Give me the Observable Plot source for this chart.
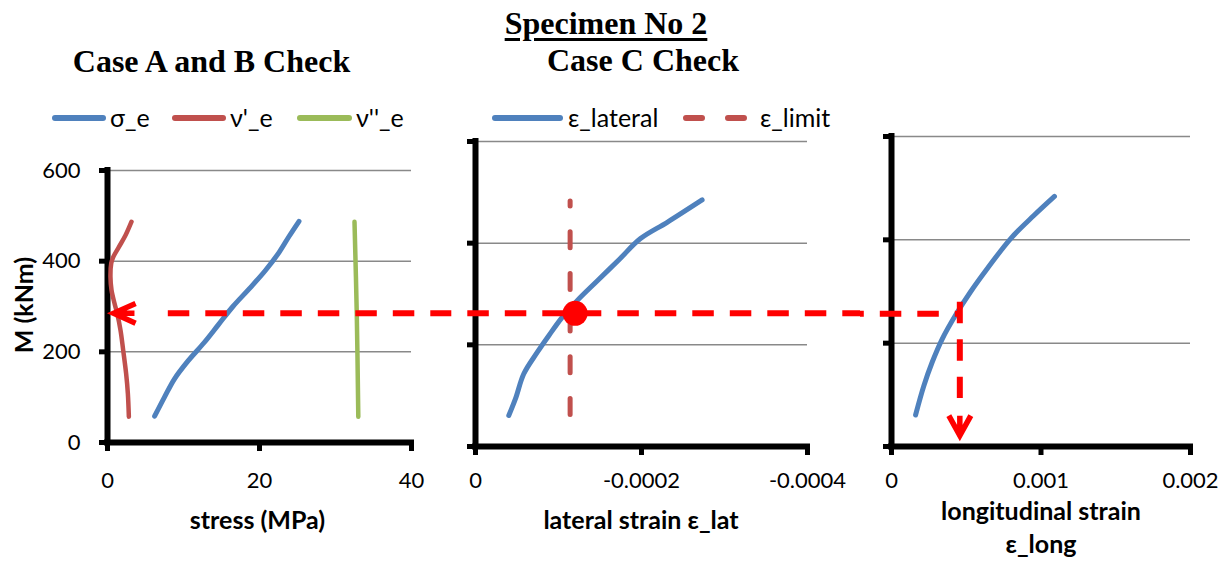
<!DOCTYPE html>
<html>
<head>
<meta charset="utf-8">
<script src="https://cdn.jsdelivr.net/npm/d3@7"></script>
<script src="https://cdn.jsdelivr.net/npm/@observablehq/plot@0.6"></script>
<style>
  html, body { margin: 0; padding: 0; background: #ffffff; }
  #chart { position: relative; width: 1230px; height: 561px; overflow: hidden; background: #fff; color: #000; font-family: Lato, "Open Sans", sans-serif; }
  .panel { position: absolute; top: 0; }
  .panel svg { display: block; }
  .lbl { position: absolute; white-space: nowrap; line-height: 1; }
  .ttl { font-family: "Liberation Serif", "Times New Roman", serif; font-weight: bold; font-size: 32px; }
  .leg { font-size: 25px; }
  .axt { font-weight: bold; font-size: 25px; }
  .sw { position: absolute; overflow: visible; }
</style>
</head>
<body>
<div id="chart"></div>
<script>
// ---------------- data ----------------
const mTicks      = [0, 200, 400, 600];
const gridTicks   = [200, 400, 600];
const stressTicks = [0, 20, 40];
const latTicks    = [0, -0.0002, -0.0004];
const longTicks   = [0, 0.001, 0.002];

// Case A and B : M (kNm) vs stress (MPa)
const sigmaM = [58, 100, 140, 180, 220, 260, 300, 340, 380, 420, 455, 488];
const sigmaE = [6.2, 7.5, 8.8, 10.6, 12.7, 14.6, 16.5, 18.7, 20.8, 22.6, 23.9, 25.2];
const nu1M   = [57, 108, 152, 204, 248, 285, 307, 336, 365, 395, 409, 431, 457, 487];
const nu1E   = [2.81, 2.68, 2.45, 2.06, 1.71, 1.27, 0.92, 0.53, 0.39, 0.49, 0.75, 1.49, 2.37, 3.16];
const nu2M   = [57, 283, 487];
const nu2E   = [33.0, 32.8, 32.5];

// Case C : M vs lateral strain
const latM   = [61, 94, 143, 185, 218, 254, 287, 327, 369, 409, 441, 485];
const epsLat = [-0.0000401, -0.0000482, -0.0000582, -0.0000743, -0.0000883, -0.0001044, -0.0001225, -0.0001475, -0.0001738, -0.0001988, -0.000231, -0.000273];
const limitM   = [62, 482];
const epsLimit = -0.000114;

// M vs longitudinal strain
const longM   = [61, 118, 163, 208, 254, 299, 344, 402, 447, 484];
const epsLong = [0.000161, 0.000217, 0.000272, 0.000339, 0.000428, 0.000528, 0.00064, 0.000796, 0.000952, 0.00109];

// check annotation (red dashed path)
const checkMStress    = 285;
const arrowTipStress  = 0.8;
const dashStartStress = 8;
const checkMLat       = 262;
const checkDotEps     = -0.00012;
const checkMLong      = 257;
const checkEpsLong    = 0.000457;
const verticalM       = [279, 93];
const arrowTipM       = 21;

// ---------------- styling ----------------
const BLUE = "#4F81BD", RED = "#C0504D", GREEN = "#9BBB59", ALERT = "#FF0000", GRID = "#898989";
const DASH = "21.5,16";
const baseStyle = {fontFamily: "Lato, sans-serif", fontSize: "22px", color: "#000", background: "transparent", overflow: "visible"};
const rows = (ms, vs) => ms.map((M, i) => ({M, v: vs[i]}));
const fmt = d => d === 0 ? "0" : String(d);

// custom arrow-head symbols (tip at origin)
const arrowLeft = {draw(ctx, size) { const r = Math.sqrt(size / Math.PI);
  ctx.moveTo(r, -0.45 * r); ctx.lineTo(0, 0); ctx.lineTo(r, 0.45 * r); ctx.moveTo(0, 0); ctx.lineTo(0.95 * r, 0); }};
const arrowDown = {draw(ctx, size) { const r = Math.sqrt(size / Math.PI);
  ctx.moveTo(-0.55 * r, -r); ctx.lineTo(0, 0); ctx.lineTo(0.55 * r, -r); ctx.moveTo(0, 0); ctx.lineTo(0, -r); }};

const chartEl = document.getElementById("chart");
const chart = d3.select(chartEl);
function place(svg, left, width) {
  const d = document.createElement("div");
  d.className = "panel"; d.style.left = left + "px"; d.style.width = width + "px";
  d.appendChild(svg); chartEl.appendChild(d);
}
const axisLines = [
  Plot.ruleX([0], {stroke: "#000", strokeWidth: 6, strokeLinecap: "square"}),
  Plot.ruleY([0], {stroke: "#000", strokeWidth: 6, strokeLinecap: "square"})
];

// ---------------- panel 1 ----------------
place(Plot.plot({
  width: 440, height: 561, marginLeft: 107, marginRight: 29, marginTop: 170, marginBottom: 119,
  style: baseStyle,
  x: {domain: [0, 40]}, y: {domain: [0, 600]},
  marks: [
    Plot.gridY(gridTicks, {stroke: GRID, strokeOpacity: 1, strokeWidth: 1.5}),
    Plot.axisY(mTicks, {tickSize: 8, tickPadding: 19, strokeWidth: 5, label: null}),
    Plot.axisX(stressTicks, {tickSize: 9, tickPadding: 21, strokeWidth: 5, tickFormat: fmt, label: null}),
    ...axisLines,
    Plot.line(rows(nu2M, nu2E), {x: "v", y: "M", stroke: GREEN, strokeWidth: 4.5, curve: "catmull-rom"}),
    Plot.line(rows(sigmaM, sigmaE), {x: "v", y: "M", stroke: BLUE, strokeWidth: 5, curve: "catmull-rom"}),
    Plot.line(rows(nu1M, nu1E), {x: "v", y: "M", stroke: RED, strokeWidth: 4.5, curve: "catmull-rom"}),
    Plot.ruleY([checkMStress], {x1: dashStartStress, x2: 40, insetRight: -29, stroke: ALERT, strokeWidth: 6, strokeDasharray: DASH}),
    Plot.dot([{x: arrowTipStress, M: checkMStress}], {x: "x", y: "M", symbol: arrowLeft, r: 22, fill: "none", stroke: ALERT, strokeWidth: 5.5, strokeLinejoin: "miter", strokeLinecap: "butt"})
  ]
}), 0, 440);

// ---------------- panel 2 ----------------
place(Plot.plot({
  width: 420, height: 561, marginLeft: 35, marginRight: 53, marginTop: 141, marginBottom: 115,
  style: baseStyle,
  x: {domain: [0, -0.0004]}, y: {domain: [0, 600]},
  marks: [
    Plot.gridY(gridTicks, {stroke: GRID, strokeOpacity: 1, strokeWidth: 1.5}),
    Plot.axisY(mTicks, {tickSize: 8, strokeWidth: 5, fill: "none", label: null}),
    Plot.axisX(latTicks, {tickSize: 9, tickPadding: 17, strokeWidth: 5, tickFormat: fmt, label: null}),
    ...axisLines,
    Plot.ruleX([epsLimit], {y1: limitM[0], y2: limitM[1], stroke: RED, strokeWidth: 5, strokeDasharray: "16,25.7", strokeLinecap: "round"}),
    Plot.line(rows(latM, epsLat), {x: "v", y: "M", stroke: BLUE, strokeWidth: 5, curve: "catmull-rom"}),
    Plot.ruleY([checkMLat], {insetLeft: -35, insetRight: -53, stroke: ALERT, strokeWidth: 6, strokeDasharray: DASH, strokeDashoffset: 10.2}),
    Plot.dot([{x: checkDotEps, M: checkMLat}], {x: "x", y: "M", r: 12.5, fill: ALERT, stroke: "none"})
  ]
}), 440, 420);

// ---------------- panel 3 ----------------
place(Plot.plot({
  width: 370, height: 561, marginLeft: 31, marginRight: 40, marginTop: 136, marginBottom: 115,
  style: baseStyle,
  x: {domain: [0, 0.002]}, y: {domain: [0, 600]},
  marks: [
    Plot.gridY(gridTicks, {stroke: GRID, strokeOpacity: 1, strokeWidth: 1.5}),
    Plot.axisY(mTicks, {tickSize: 8, strokeWidth: 5, fill: "none", label: null}),
    Plot.axisX(longTicks, {tickSize: 9, tickPadding: 17, strokeWidth: 5, tickFormat: fmt, label: null}),
    ...axisLines,
    Plot.line(rows(longM, epsLong), {x: "v", y: "M", stroke: BLUE, strokeWidth: 5, curve: "catmull-rom"}),
    Plot.ruleY([checkMLong], {x1: 0, x2: checkEpsLong, insetLeft: -31, stroke: ALERT, strokeWidth: 6, strokeDasharray: DASH, strokeDashoffset: 17.7}),
    Plot.ruleX([checkEpsLong], {y1: verticalM[0], y2: verticalM[1], stroke: ALERT, strokeWidth: 6, strokeDasharray: DASH}),
    Plot.dot([{x: checkEpsLong, M: arrowTipM}], {x: "x", y: "M", symbol: arrowDown, r: 20, fill: "none", stroke: ALERT, strokeWidth: 5.5, strokeLinejoin: "miter", strokeLinecap: "butt"})
  ]
}), 860, 370);

// ---------------- titles, legends, axis titles ----------------
function label(text, x, y, cls, align, rotate) {
  const t = align === "left" ? "translate(0,-50%)" : "translate(-50%,-50%)";
  return chart.append("div").attr("class", "lbl " + cls)
    .style("left", x + "px").style("top", y + "px")
    .style("transform", t + (rotate ? " rotate(-90deg)" : ""))
    .text(text);
}
function swatch(x1, x2, y, color, dash) {
  const s = chart.append("svg").attr("class", "sw")
    .style("left", x1 + "px").style("top", (y - 5) + "px")
    .attr("width", x2 - x1).attr("height", 10);
  s.append("line").attr("x1", 3).attr("x2", x2 - x1 - 3).attr("y1", 5).attr("y2", 5)
    .attr("stroke", color).attr("stroke-width", 6).attr("stroke-linecap", "round")
    .attr("stroke-dasharray", dash || null);
}

label("Specimen No 2", 606, 22.5, "ttl")
  .style("text-decoration", "underline").style("text-decoration-thickness", "2.5px").style("text-underline-offset", "4px");
label("Case A and B Check", 211.5, 60.5, "ttl");
label("Case C Check", 643, 60, "ttl");

swatch(52, 106, 117.7, BLUE);  label("σ_e", 110, 117, "leg", "left");
swatch(172, 226, 117.7, RED);  label("ν'_e", 230, 117, "leg", "left");
swatch(297, 352, 117.7, GREEN); label("ν''_e", 356, 117, "leg", "left");
swatch(492, 563, 117.7, BLUE); label("ε_lateral", 568, 117, "leg", "left");
swatch(683, 747, 117.7, RED, "16,26"); label("ε_limit", 760, 117, "leg", "left");

label("M (kNm)", 23, 305, "axt", "center", true);
label("stress (MPa)", 257.5, 519, "axt");
label("lateral strain ε_lat", 641, 519, "axt");
label("longitudinal strain", 1041, 510, "axt");
label("ε_long", 1041, 543, "axt");
</script>
</body>
</html>
